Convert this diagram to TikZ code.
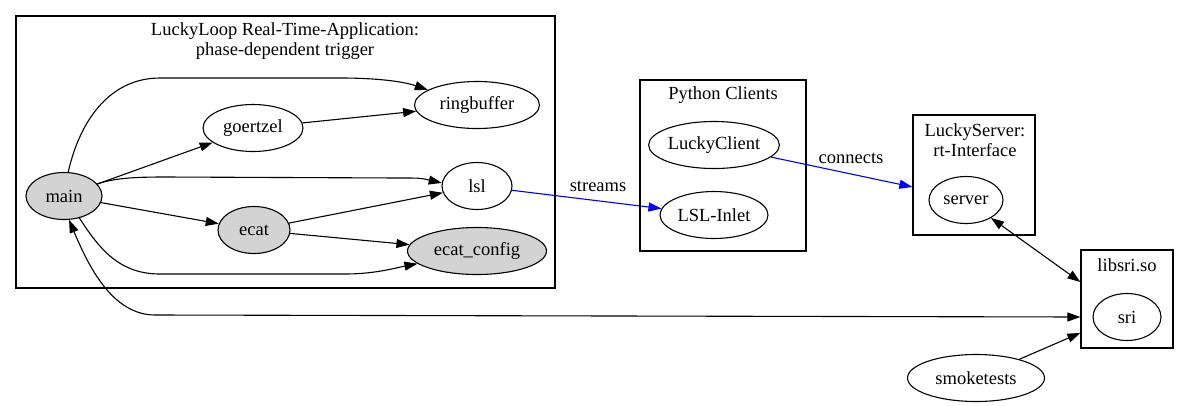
\documentclass[tikz,border=0pt]{standalone}
\usepackage{fontspec}
\setmainfont{LiberationSerif}[Extension=.ttf,UprightFont=*-Regular,BoldFont=*-Bold]
\usetikzlibrary{shapes.geometric,arrows.meta}
\definecolor{lightgrey}{HTML}{D3D3D3}
\tikzset{
  comp/.style={ellipse,draw=black,line width=1.1pt,inner sep=0pt,minimum height=47pt},
  core/.style={comp,fill=lightgrey},
  cluster/.style={rectangle,draw=black,line width=1.2pt,inner sep=0pt},
  title/.style={align=center,inner sep=0pt},
  link/.style={->,line width=1.1pt},
  flow/.style={link,blue},
}
\begin{document}
\begin{tikzpicture}[x=1pt,y=-1pt,font=\fontsize{18.5}{20}\selectfont,>={Triangle[length=13pt,width=9pt]}]
\useasboundingbox (0,0) rectangle (1190,405);
\node[cluster,minimum width=539pt,minimum height=272pt] (loopbox) at (285.5,152) {};
\node[title] (looptitle) at (285,41) {LuckyLoop Real-Time-Application:\\phase-dependent trigger};
\node[cluster,minimum width=166pt,minimum height=171pt] (pybox) at (723,165.5) {};
\node[title] (pytitle) at (723,95) {Python Clients};
\node[cluster,minimum width=122pt,minimum height=120pt] (srvbox) at (974,175) {};
\node[title] (srvtitle) at (975,140) {LuckyServer:\\ rt-Interface};
\node[cluster,minimum width=92pt,minimum height=98pt] (libbox) at (1127,299) {};
\node[title] (libtitle) at (1127,265) {libsri.so};
\node[core,minimum width=76pt] (main) at (64,196) {main};
\node[comp,minimum width=100pt] (goertzel) at (253,128) {goertzel};
\node[comp,minimum width=125pt] (ringbuffer) at (477,105) {ringbuffer};
\node[comp,minimum width=70pt] (lsl) at (477,186) {lsl};
\node[core,minimum width=72pt] (ecat) at (254,230) {ecat};
\node[core,minimum width=139pt] (ecatconfig) at (477,251) {ecat\_config};
\node[comp,minimum width=126pt] (client) at (714,145) {LuckyClient};
\node[comp,minimum width=108pt] (inlet) at (714,215) {LSL-Inlet};
\node[comp,minimum width=74pt] (server) at (966,200) {server};
\node[comp,minimum width=68pt] (sri) at (1127,317) {sri};
\node[comp,minimum width=137pt] (smoketests) at (976,378) {smoketests};
\node (streams) at (598,186) {streams};
\node (connects) at (851,158) {connects};
\draw[link] (main.80) .. controls (80,120) and (110,78) .. (160,78) -- (340,78) .. controls (380,78) and (405,82) .. (ringbuffer.163);
\draw[link] (main) -- (goertzel);
\draw[link] (goertzel) -- (ringbuffer);
\draw[link] (main.20) .. controls (115,178) and (135,177) .. (165,177) -- (400,178) .. controls (420,178) .. (lsl.175);
\draw[link] (main) -- (ecat);
\draw[link] (ecat) -- (lsl);
\draw[link] (ecat) -- (ecatconfig);
\draw[link] (main.-55) .. controls (100,250) and (120,274) .. (160,274) -- (345,274) .. controls (375,274) and (395,268) .. (ecatconfig.-168);
\draw[flow] (lsl) -- (inlet);
\draw[flow] (client) -- (srvbox.191);
\draw[<->,line width=1.1pt] (server) -- (libbox.160);
\draw[<->,line width=1.1pt] (main.-78) .. controls (88,265) and (112,315) .. (155,315) -- (libbox.west |- sri);
\draw[link] (smoketests) -- (libbox.216);
\end{tikzpicture}
\end{document}
